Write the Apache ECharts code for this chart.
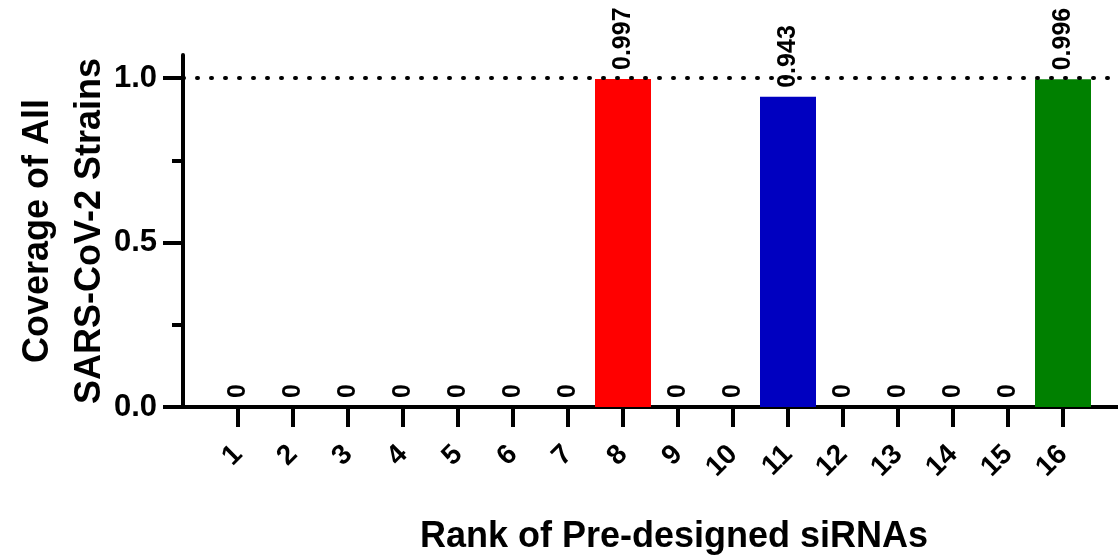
<!DOCTYPE html>
<html>
<head>
<meta charset="utf-8">
<script src="https://cdn.jsdelivr.net/npm/echarts@6/dist/echarts.min.js"></script>
<style>
html,body{margin:0;padding:0;background:#fff;}
#chart{width:1118px;height:557px;}
</style>
</head>
<body>
<div id="chart"></div>
<script>
// ---- data ----
var ranks = [1, 2, 3, 4, 5, 6, 7, 8, 9, 10, 11, 12, 13, 14, 15, 16];
var coverage = [0, 0, 0, 0, 0, 0, 0, 0.997, 0, 0, 0.943, 0, 0, 0, 0, 0.996];
var yTickLabels = [0, 0.5, 1.0];
var yMinorTicks = [0.25, 0.75];
var referenceLevel = 1.0;
var yTitleLines = ['Coverage of All', 'SARS-CoV-2 Strains'];
var xTitle = 'Rank of Pre-designed siRNAs';

// ---- styles ----
var barColors = { 8: '#FF0000', 11: '#0000C0', 16: '#008000' };
var FONT = '"Liberation Sans", Arial, sans-serif';

var seriesData = ranks.map(function (r, i) {
  var item = { value: [r, coverage[i]] };
  if (barColors[r]) item.itemStyle = { color: barColors[r] };
  return item;
});

var chart = echarts.init(document.getElementById('chart'), null, { renderer: 'canvas' });
chart.setOption({
  animation: false,
  backgroundColor: '#ffffff',
  grid: { left: 183, right: 0, top: 55, bottom: 150, containLabel: false },
  xAxis: {
    type: 'value', min: 0, max: 17,
    splitLine: { show: false },
    axisLine: { show: true, lineStyle: { color: '#000', width: 4 } },
    axisTick: { show: true, customValues: ranks, length: 20, lineStyle: { color: '#000', width: 4 } },
    axisLabel: {
      show: true, customValues: ranks, rotate: 45, margin: 43,
      fontFamily: FONT, fontWeight: 'bold', fontSize: 28, color: '#000'
    }
  },
  yAxis: [{
    type: 'value', min: 0, max: 1.07,
    splitLine: { show: false },
    axisLine: { show: true, lineStyle: { color: '#000', width: 4 } },
    axisTick: { show: true, customValues: yTickLabels, length: 20, lineStyle: { color: '#000', width: 4 } },
    axisLabel: {
      show: true, customValues: yTickLabels, margin: 26,
      fontFamily: FONT, fontWeight: 'bold', fontSize: 31, color: '#000',
      formatter: function (v) { return Number(v).toFixed(1); }
    }
  }, {
    type: 'value', min: 0, max: 1.07, position: 'left',
    splitLine: { show: false },
    axisLine: { show: false },
    axisTick: { show: true, customValues: yMinorTicks, length: 11, lineStyle: { color: '#000', width: 4 } },
    axisLabel: { show: false }
  }],
  series: [{
    type: 'bar',
    data: seriesData,
    barWidth: 56,
    itemStyle: { color: '#000' },
    label: {
      show: true, position: 'top', rotate: 90, distance: 9,
      align: 'left', verticalAlign: 'middle',
      fontFamily: FONT, fontWeight: 'bold', fontSize: 25, color: '#000',
      formatter: function (p) { return String(p.value[1]); }
    },
    markLine: {
      silent: true, symbol: 'none',
      label: { show: false },
      lineStyle: { color: '#000', width: 4, type: [1, 13], cap: 'round' },
      data: [{ yAxis: referenceLevel }]
    }
  }],
  graphic: [
    {
      type: 'text', x: 38, y: 231, rotation: Math.PI / 2,
      style: { text: yTitleLines[0], font: 'bold 36px ' + FONT, fill: '#000', align: 'center', verticalAlign: 'middle' }
    },
    {
      type: 'text', x: 90, y: 231, rotation: Math.PI / 2,
      style: { text: yTitleLines[1], font: 'bold 36px ' + FONT, fill: '#000', align: 'center', verticalAlign: 'middle' }
    },
    {
      type: 'text', x: 674, y: 537,
      style: { text: xTitle, font: 'bold 36px ' + FONT, fill: '#000', align: 'center', verticalAlign: 'middle' }
    }
  ]
});
</script>
</body>
</html>
